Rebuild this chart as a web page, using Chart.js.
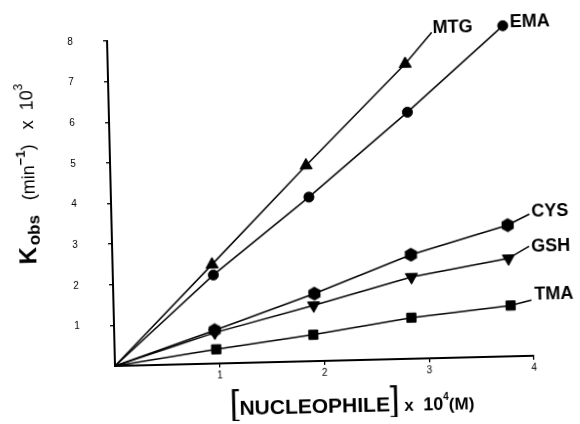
<!DOCTYPE html>
<html>
<head>
<meta charset="utf-8">
<script src="https://cdn.jsdelivr.net/npm/chart.js@4.4.1/dist/chart.umd.min.js"></script>
<style>
  html, body { margin: 0; padding: 0; background: #fff; }
  /* the scanned figure sits a little crooked on the page */
  #wrap { position: relative; width: 580px; height: 424px; transform: rotate(-1.4deg); transform-origin: 115px 366px; }
</style>
</head>
<body>
<div id="wrap"><canvas id="chart"></canvas></div>
<script>
'use strict';

// [nucleophile] x 10^4 (M) against k_obs x 10^3 (min^-1)
var mtgX = [0.95, 1.87, 2.84];
var mtgY = [2.44, 4.82, 7.26];
var emaX = [0.96, 1.89, 2.85, 3.78];
var emaY = [2.18, 4.04, 6.07, 8.14];
var cysX = [0.96, 1.92, 2.85, 3.78];
var cysY = [0.82, 1.66, 2.56, 3.23];
var gshX = [0.96, 1.91, 2.85, 3.78];
var gshY = [0.76, 1.37, 2.01, 2.41];
var tmaX = [0.97, 1.90, 2.84, 3.79];
var tmaY = [0.35, 0.65, 1.01, 1.25];

// the drawn lines run on a bit past the last point, up to the label
var mtgEnd = [3.10, 8.02];
var cysEnd = [3.99, 3.49];
var gshEnd = [3.98, 2.70];
var tmaEnd = [3.99, 1.37];

var xTicks = [1, 2, 3, 4];
var yTicks = [1, 2, 3, 4, 5, 6, 7, 8];

var FONT = '"Liberation Sans", Arial, Helvetica, sans-serif';

// CYS uses a filled hexagon, which chart.js has no built-in style for
function hexagon(r) {
    var c = document.createElement('canvas');
    c.width = c.height = Math.ceil(2 * r + 2);
    var g = c.getContext('2d');
    var m = c.width / 2;
    g.fillStyle = '#000';
    g.beginPath();
    for (var i = 0; i < 6; i++) {
        var a = Math.PI / 6 + i * Math.PI / 3;
        g.lineTo(m + r * Math.cos(a), m + r * Math.sin(a));
    }
    g.closePath();
    g.fill();
    return c;
}

function series(label, xs, ys, end, style, radius, rotation, dx, dy) {
    var pts = [{x: 0, y: 0}];
    xs.forEach((x, i) => pts.push({x: x, y: ys[i]}));
    if (end) pts.push({x: end[0], y: end[1]});
    var hidden = (i) => i === 0 || (end && i === pts.length - 1);
    return {
        label: label,
        data: pts,
        showLine: true,
        clip: false,
        borderColor: '#000',
        borderWidth: 1.5,
        backgroundColor: '#000',
        pointBackgroundColor: '#000',
        pointBorderColor: '#000',
        pointBorderWidth: 1,
        pointStyle: pts.map((p, i) => hidden(i) ? false : style),
        pointRotation: rotation,
        pointRadius: pts.map((p, i) => hidden(i) ? 0 : radius),
        labelDx: dx,
        labelDy: dy
    };
}

function runWidth(ctx, parts) {
    var w = 0;
    parts.forEach(p => { ctx.font = p.font; w += ctx.measureText(p.text).width; });
    return w;
}

function drawRun(ctx, parts, x, y) {
    parts.forEach(p => {
        ctx.font = p.font;
        ctx.fillText(p.text, x, y + (p.dy || 0));
        x += ctx.measureText(p.text).width;
    });
}

var seriesLabels = {
    id: 'seriesLabels',
    afterDatasetsDraw: function (chart) {
        var ctx = chart.ctx;
        ctx.save();
        ctx.fillStyle = '#000';
        ctx.textBaseline = 'middle';
        ctx.font = 'bold 18px ' + FONT;
        chart.data.datasets.forEach(ds => {
            var last = ds.data[ds.data.length - 1];
            var px = chart.scales.x.getPixelForValue(last.x);
            var py = chart.scales.y.getPixelForValue(last.y);
            ctx.fillText(ds.label, px + ds.labelDx, py + ds.labelDy + 1);
        });
        ctx.restore();
    }
};

// tick numbers sit well away from the axis in the original
var tickLabels = {
    id: 'tickLabels',
    afterDraw: function (chart) {
        var ctx = chart.ctx;
        var xs = chart.scales.x;
        var ys = chart.scales.y;
        ctx.save();
        ctx.fillStyle = '#000';
        ctx.font = '10px ' + FONT;
        ctx.textAlign = 'center';
        ctx.textBaseline = 'middle';
        xTicks.forEach(v => ctx.fillText(String(v), xs.getPixelForValue(v), xs.top + 12));
        yTicks.forEach(v => ctx.fillText(String(v), ys.right - 37, ys.getPixelForValue(v)));
        ctx.restore();
    }
};

var axisTitles = {
    id: 'axisTitles',
    afterDraw: function (chart) {
        var ctx = chart.ctx;
        var area = chart.chartArea;
        ctx.save();
        ctx.fillStyle = '#000';
        ctx.textBaseline = 'alphabetic';

        var xParts = [
            {text: '[', font: '35px ' + FONT},
            {text: 'NUCLEOPHILE', font: 'bold 21px ' + FONT},
            {text: ']', font: '35px ' + FONT},
            {text: ' x  ', font: 'bold 17px ' + FONT},
            {text: '10', font: 'bold 18px ' + FONT},
            {text: '4', font: 'bold 10px ' + FONT, dy: -10},
            {text: '(M)', font: 'bold 17px ' + FONT}
        ];
        var xw = runWidth(ctx, xParts);
        drawRun(ctx, xParts, 351 - xw / 2, area.bottom + 52);

        var yParts = [
            {text: 'K', font: 'bold 24px ' + FONT},
            {text: ' ', font: '6px ' + FONT},
            {text: 'obs', font: 'bold 17px ' + FONT, dy: 4},
            {text: '   (min', font: '18px ' + FONT},
            {text: '\u22121', font: 'bold 13px ' + FONT, dy: -9},
            {text: ')   x  10', font: '18px ' + FONT},
            {text: '3', font: '12px ' + FONT, dy: -10}
        ];
        var yw = runWidth(ctx, yParts);
        ctx.translate(39, 172);
        ctx.rotate(-Math.PI / 2);
        drawRun(ctx, yParts, -yw / 2, 0);
        ctx.restore();
    }
};

var canvas = document.getElementById('chart');
new Chart(canvas, {
    type: 'scatter',
    data: {
        datasets: [
            series('MTG', mtgX, mtgY, mtgEnd, 'triangle', 7, 0, 1, -5),
            series('EMA', emaX, emaY, null, 'circle', 5, 0, 7, -4),
            series('CYS', cysX, cysY, cysEnd, hexagon(7), 7, 0, 2, -3),
            series('GSH', gshX, gshY, gshEnd, 'triangle', 7, 180, 2, 0),
            series('TMA', tmaX, tmaY, tmaEnd, 'rect', 6.5, 0, 3, -6)
        ]
    },
    options: {
        responsive: true,
        maintainAspectRatio: false,
        animation: false,
        events: [],
        layout: { padding: { top: 41, right: 46, bottom: 0, left: 0 } },
        elements: { line: { tension: 0 } },
        plugins: {
            legend: { display: false },
            tooltip: { enabled: false }
        },
        scales: {
            x: {
                type: 'linear',
                min: 0,
                max: 4,
                afterBuildTicks: scale => { scale.ticks = xTicks.map(v => ({value: v})); },
                afterFit: scale => { scale.height = 58; },
                grid: { drawOnChartArea: false, drawTicks: true, tickLength: 4, color: '#000', lineWidth: 1.3 },
                border: { color: '#000', width: 2 },
                ticks: { display: false }
            },
            y: {
                type: 'linear',
                min: 0,
                max: 8,
                afterBuildTicks: scale => { scale.ticks = yTicks.map(v => ({value: v})); },
                afterFit: scale => { scale.width = 115; },
                grid: { drawOnChartArea: false, drawTicks: true, tickLength: 4, color: '#000', lineWidth: 1.3 },
                border: { color: '#000', width: 2 },
                ticks: { display: false }
            }
        }
    },
    plugins: [seriesLabels, tickLabels, axisTitles]
});
</script>
</body>
</html>
